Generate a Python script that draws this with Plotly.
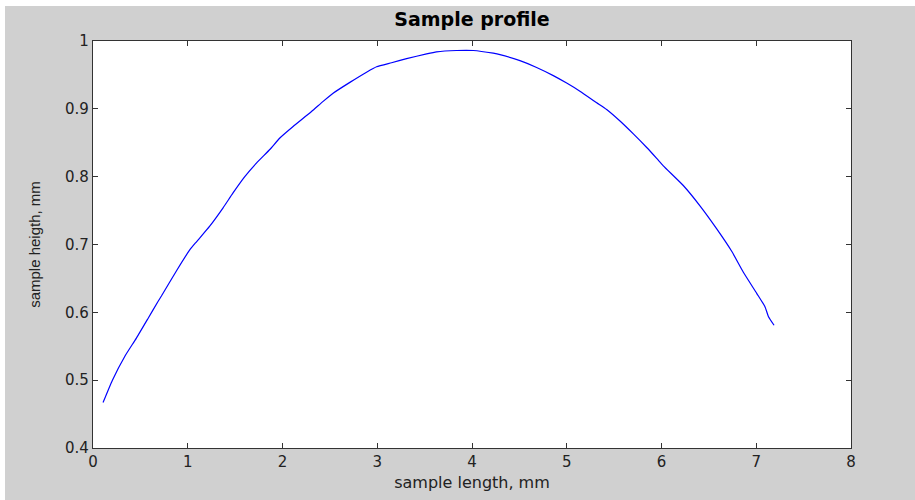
import plotly.graph_objects as go

# sample length (mm) and sample height (mm)
length_mm = [0.106, 0.205, 0.335, 0.458, 0.581, 0.686, 0.722, 0.88, 1.021, 1.092,
             1.232, 1.373, 1.478, 1.602, 1.725, 1.866, 1.972, 2.112, 2.306, 2.429,
             2.534, 2.711, 2.887, 2.993, 3.151, 3.31, 3.521, 3.626, 3.837, 4.013,
             4.224, 4.295, 4.506, 4.682, 4.858, 4.999, 5.139, 5.316, 5.421, 5.562,
             5.703, 5.844, 5.949, 6.019, 6.23, 6.406, 6.583, 6.741, 6.864, 7.005,
             7.093, 7.128, 7.188]
height_mm = [0.467, 0.500, 0.535, 0.562, 0.591, 0.616, 0.624, 0.661, 0.692, 0.704,
             0.727, 0.754, 0.776, 0.800, 0.820, 0.840, 0.857, 0.874, 0.896, 0.911,
             0.923, 0.939, 0.954, 0.962, 0.968, 0.974, 0.981, 0.984, 0.986, 0.986,
             0.982, 0.980, 0.971, 0.961, 0.949, 0.938, 0.926, 0.909, 0.899, 0.882,
             0.863, 0.843, 0.827, 0.816, 0.787, 0.757, 0.723, 0.690, 0.659, 0.628,
             0.608, 0.594, 0.581]

x_ticks = [0, 1, 2, 3, 4, 5, 6, 7, 8]
y_ticks = [0.4, 0.5, 0.6, 0.7, 0.8, 0.9, 1]
y_tick_text = ["0.4", "0.5", "0.6", "0.7", "0.8", "0.9", "1"]

W, H = 915, 500
ML, MR, MT, MB = 93, 64, 41, 52
PW, PH = W - ML - MR, H - MT - MB
GRAY = "#d0d0d0"
AX = "#333333"
WIDE = "DejaVu Sans, Verdana, sans-serif"
NARROW = "Liberation Sans, Arial, sans-serif"

fig = go.Figure()
fig.add_trace(go.Scatter(x=length_mm, y=height_mm, mode="lines",
                         line=dict(color="#0000ff", width=1.2, shape="spline",
                                   smoothing=0.5),
                         hoverinfo="skip", showlegend=False))

def px2paper_x(p):
    return (p - ML) / PW

def px2paper_y(p):
    return (H - MB - p) / PH

shapes = [
    # white strips on top and left edge of the picture
    dict(type="rect", xref="paper", yref="paper", layer="below",
         x0=px2paper_x(0), x1=px2paper_x(5), y0=px2paper_y(H), y1=px2paper_y(0),
         fillcolor="white", line=dict(width=0)),
    dict(type="rect", xref="paper", yref="paper", layer="below",
         x0=px2paper_x(0), x1=px2paper_x(W), y0=px2paper_y(6), y1=px2paper_y(0),
         fillcolor="white", line=dict(width=0)),
]

fig.update_layout(
    width=W, height=H,
    margin=dict(l=ML, r=MR, t=MT, b=MB, pad=0),
    paper_bgcolor=GRAY, plot_bgcolor="white",
    font=dict(family=WIDE, color="#1a1a1a", size=15),
    title=dict(text="<b>Sample profile</b>", x=(ML + PW / 2) / W, xanchor="center",
               y=1 - 19 / H, yanchor="middle",
               font=dict(family=WIDE, size=19, color="#000000")),
    shapes=shapes,
    xaxis=dict(range=[0, 8], tickvals=x_ticks, ticks="inside", ticklen=5,
               tickcolor=AX, showline=True, linecolor=AX, linewidth=1.2,
               mirror="ticks", showgrid=False, zeroline=False,
               tickfont=dict(family=WIDE, size=15, color="#222222"),
               title=dict(text="sample length, mm", standoff=6,
                          font=dict(family=WIDE, size=16, color="#222222"))),
    yaxis=dict(range=[0.4, 1], tickvals=y_ticks, ticktext=y_tick_text,
               ticks="inside", ticklen=5,
               tickcolor=AX, showline=True, linecolor=AX, linewidth=1.2,
               mirror="ticks", showgrid=False, zeroline=False,
               tickfont=dict(family=WIDE, size=15, color="#222222"),
               title=dict(text="sample heigth, mm", standoff=20,
                          font=dict(family=NARROW, size=15, color="#222222"))),
)

fig.write_html("out.html")
